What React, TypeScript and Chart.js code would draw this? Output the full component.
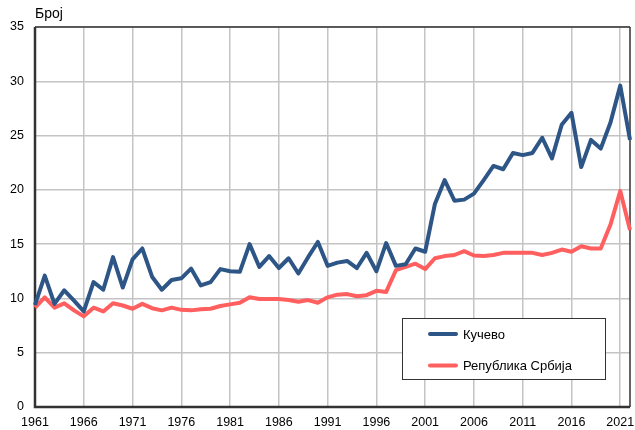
import React, { useEffect, useRef } from 'react';
import { Chart, registerables } from 'chart.js';

Chart.register(...registerables);

const years = [
  '1961', '1962', '1963', '1964', '1965', '1966', '1967', '1968', '1969', '1970',
  '1971', '1972', '1973', '1974', '1975', '1976', '1977', '1978', '1979', '1980',
  '1981', '1982', '1983', '1984', '1985', '1986', '1987', '1988', '1989', '1990',
  '1991', '1992', '1993', '1994', '1995', '1996', '1997', '1998', '1999', '2000',
  '2001', '2002', '2003', '2004', '2005', '2006', '2007', '2008', '2009', '2010',
  '2011', '2012', '2013', '2014', '2015', '2016', '2017', '2018', '2019', '2020',
  '2021', '2022',
];

const tickYears = ['1961', '1966', '1971', '1976', '1981', '1986', '1991', '1996', '2001', '2006', '2011', '2016', '2021'];

const kucevo = [
  9.4, 12.1, 9.5, 10.75, 9.8, 8.8, 11.5, 10.8, 13.8, 11.0,
  13.6, 14.6, 12.0, 10.8, 11.7, 11.85, 12.75, 11.2, 11.5, 12.7,
  12.5, 12.45, 15.0, 12.9, 13.9, 12.8, 13.7, 12.3, 13.8, 15.2,
  13.0, 13.3, 13.45, 12.8, 14.2, 12.5, 15.1, 13.0, 13.15, 14.6,
  14.3, 18.7, 20.9, 19.0, 19.1, 19.65, 20.9, 22.2, 21.9, 23.4,
  23.2, 23.4, 24.8, 22.9, 26.0, 27.1, 22.1, 24.6, 23.8, 26.2,
  29.6, 24.6,
];

const srbija = [
  9.15, 10.1, 9.15, 9.55, 8.9, 8.35, 9.15, 8.8, 9.55, 9.35,
  9.05, 9.5, 9.1, 8.9, 9.15, 8.95, 8.9, 9.0, 9.05, 9.3,
  9.45, 9.6, 10.1, 9.95, 9.95, 9.95, 9.85, 9.7, 9.85, 9.6,
  10.1, 10.35, 10.4, 10.2, 10.3, 10.7, 10.6, 12.6, 12.9, 13.2,
  12.7, 13.7, 13.9, 14.0, 14.35, 13.95, 13.9, 14.0, 14.2, 14.2,
  14.2, 14.2, 14.0, 14.2, 14.5, 14.3, 14.8, 14.6, 14.6, 16.8,
  19.9, 16.3,
];

const seriesNames = ['Кучево', 'Република Србија'];
const seriesColors = ['#2d5586', '#ff5f5f'];
const yTicks = [0, 5, 10, 15, 20, 25, 30, 35];
const yAxisTitle = 'Број';

const FONT = "'Liberation Sans', Arial, sans-serif";

const framePlugin = {
  id: 'frame',
  beforeDatasetsDraw(chart: any) {
    const { ctx, chartArea: a } = chart;
    ctx.save();
    ctx.strokeStyle = '#333333';
    ctx.lineWidth = 1.5;
    ctx.beginPath();
    ctx.moveTo(a.left, a.top);
    ctx.lineTo(a.right, a.top);
    ctx.moveTo(a.right, a.top);
    ctx.lineTo(a.right, a.bottom);
    ctx.stroke();
    ctx.lineWidth = 2.5;
    ctx.beginPath();
    ctx.moveTo(a.left, a.top);
    ctx.lineTo(a.left, a.bottom);
    ctx.lineTo(a.right, a.bottom);
    ctx.stroke();
    ctx.fillStyle = '#000';
    ctx.font = `14px ${FONT}`;
    ctx.textAlign = 'left';
    ctx.textBaseline = 'middle';
    ctx.fillText(yAxisTitle, a.left, 14);
    ctx.restore();
  },
};

const legendPlugin = {
  id: 'boxLegend',
  afterDraw(chart: any) {
    const { ctx } = chart;
    const x = 402, y = 318, w = 203, h = 61;
    ctx.save();
    ctx.fillStyle = '#ffffff';
    ctx.fillRect(x, y, w, h);
    ctx.strokeStyle = '#333333';
    ctx.lineWidth = 1;
    ctx.strokeRect(x + 0.5, y + 0.5, w, h);
    chart.data.datasets.forEach((ds: any, i: number) => {
      const cy = y + 16 + i * 31.5;
      ctx.strokeStyle = ds.borderColor;
      ctx.lineWidth = 4;
      ctx.lineCap = 'round';
      ctx.beginPath();
      ctx.moveTo(x + 28, cy);
      ctx.lineTo(x + 54, cy);
      ctx.stroke();
      ctx.fillStyle = '#000';
      ctx.font = `13px ${FONT}`;
      ctx.textAlign = 'left';
      ctx.textBaseline = 'middle';
      ctx.fillText(ds.label, x + 61, cy + 1);
    });
    ctx.restore();
  },
};

export default function App() {
  const ref = useRef<HTMLCanvasElement | null>(null);

  useEffect(() => {
    if (!ref.current) return;
    const chart = new Chart(ref.current, {
      type: 'line',
      data: {
        labels: years,
        datasets: [
          {
            label: seriesNames[0],
            data: kucevo,
            borderColor: seriesColors[0],
            backgroundColor: seriesColors[0],
            borderWidth: 4,
            pointRadius: 0,
            tension: 0,
            borderJoinStyle: 'round',
          },
          {
            label: seriesNames[1],
            data: srbija,
            borderColor: seriesColors[1],
            backgroundColor: seriesColors[1],
            borderWidth: 4,
            pointRadius: 0,
            tension: 0,
            borderJoinStyle: 'round',
          },
        ],
      },
      options: {
        animation: false,
        responsive: false,
        maintainAspectRatio: false,
        layout: { padding: { top: 27, right: 5, left: 0, bottom: 0 } },
        plugins: {
          legend: { display: false },
          tooltip: { enabled: false },
          title: { display: false },
        },
        scales: {
          x: {
            type: 'category',
            offset: false,
            afterBuildTicks: (scale: any) => {
              scale.ticks = scale.ticks.filter((t: any) => tickYears.includes(years[t.value]));
            },
            afterFit: (scale: any) => {
              scale.height = 23;
              scale.paddingRight = 0;
              scale.paddingLeft = 0;
            },
            ticks: {
              autoSkip: false,
              maxRotation: 0,
              padding: 8,
              color: '#000',
              font: { family: FONT, size: 12.5 },
            },
            grid: { color: '#c4c4c4', lineWidth: 1.5, drawTicks: false },
            border: { display: false },
          },
          y: {
            min: 0,
            max: 35,
            afterBuildTicks: (scale: any) => {
              scale.ticks = yTicks.map((v) => ({ value: v }));
            },
            afterFit: (scale: any) => {
              scale.width = 35;
            },
            ticks: {
              padding: 11,
              color: '#000',
              font: { family: FONT, size: 12.5 },
            },
            grid: { color: '#c4c4c4', lineWidth: 1.5, drawTicks: false },
            border: { display: false },
          },
        },
      },
      plugins: [framePlugin, legendPlugin],
    } as any);
    return () => chart.destroy();
  }, []);

  return (
    <div style={{ position: 'fixed', left: 0, top: 0, width: 635, height: 430, background: '#fff' }}>
      <canvas ref={ref} width={635} height={430} style={{ display: 'block', width: 635, height: 430 }} />
    </div>
  );
}
